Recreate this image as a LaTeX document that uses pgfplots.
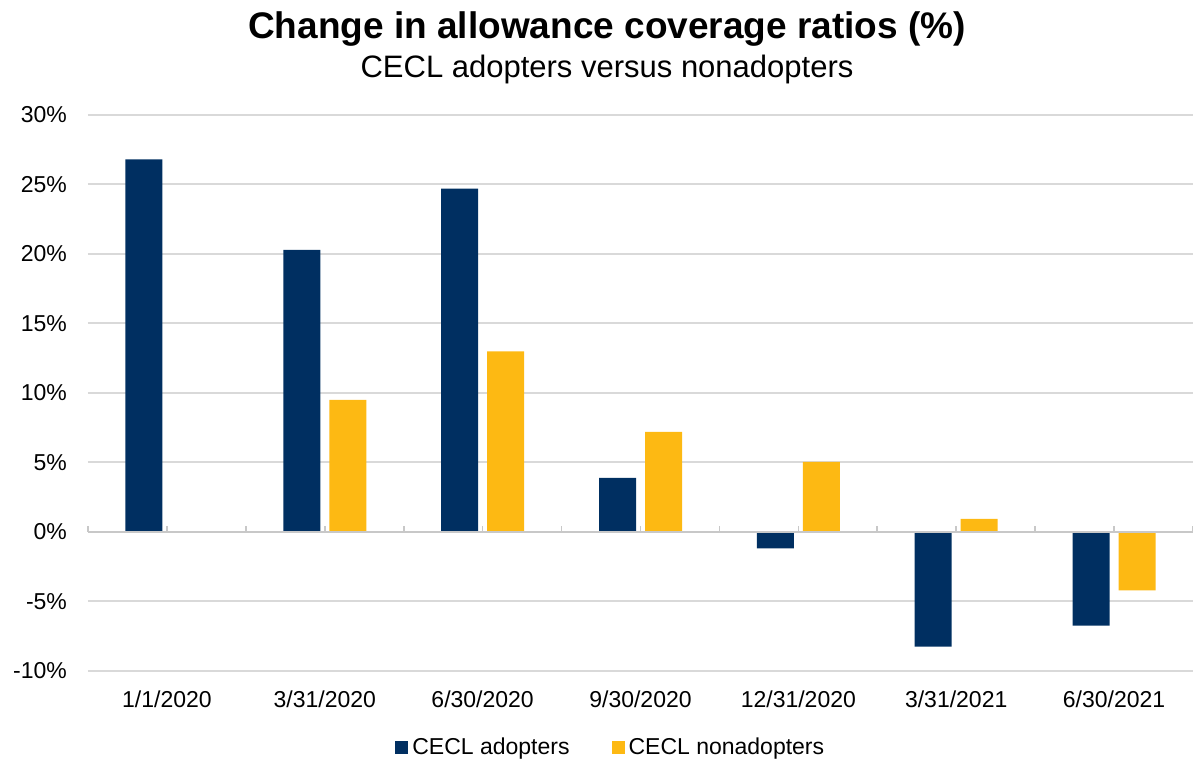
\documentclass[border=0pt]{standalone}
\usepackage{pgfplots}
\pgfplotsset{compat=1.18}
\usepackage{fontspec}
\setmainfont{Liberation Sans}
\definecolor{navy}{HTML}{002F61}
\definecolor{gold}{HTML}{FDB913}
\definecolor{gridgray}{HTML}{D9D9D9}
\definecolor{zerogray}{HTML}{C8C8C8}

\begin{document}
\begin{tikzpicture}
\path[use as bounding box] (-44pt,-46pt) rectangle (552.5pt,335.5pt);
\begin{axis}[
  at={(0,0)}, anchor=south west,
  scale only axis, width=552.5pt, height=278pt,
  xmin=-0.5, xmax=6.5, ymin=-10, ymax=30,
  ytick={-10,-5,...,30},
  yticklabels={-10\%,-5\%,0\%,5\%,10\%,15\%,20\%,25\%,30\%},
  xtick={0,...,6},
  xticklabels={1/1/2020,3/31/2020,6/30/2020,9/30/2020,12/31/2020,3/31/2021,6/30/2021},
  ymajorgrids, grid style={gridgray, line width=1pt},
  axis line style={draw=none},
  major tick length=0pt,
  tick label style={font=\fontsize{11.5}{14}\selectfont},
  yticklabel style={anchor=east, xshift=-7pt},
  xticklabel style={anchor=base, yshift=-18.5pt},
  ybar=4.5pt, bar width=18.5pt,
  clip=false,
  legend style={at={(0.474,0)}, yshift=-38.5pt, anchor=center, draw=none,
    legend columns=2, font=\fontsize{11.5}{14}\selectfont,
    /tikz/every even column/.append style={column sep=19pt}},
  legend image code/.code={\fill[#1] (0pt,-3.25pt) rectangle (6.5pt,3.25pt);},
]
\addplot[fill=navy, draw=none] coordinates {
  (0,26.8) (1,20.3) (2,24.7) (3,3.9) (4,-1.17) (5,-8.25) (6,-6.74)};
\addlegendentry{CECL adopters}
\addplot[fill=gold, draw=none] coordinates {
  (1,9.5) (2,13.0) (3,7.2) (4,5.05) (5,0.94) (6,-4.2)};
\addlegendentry{CECL nonadopters}
% zero line with small category ticks
\draw[zerogray, line width=1pt] (axis cs:-0.5,0) -- (axis cs:6.5,0);
\pgfplotsinvokeforeach{-0.5,0,...,6.5}{
  \draw[zerogray, line width=0.8pt] (axis cs:#1,0) -- ++(0pt,3pt);
}
\end{axis}
\node[anchor=base, font=\bfseries\fontsize{18.5}{22}\selectfont] at (259.5pt,316.4pt)
  {Change in allowance coverage ratios (\%)};
\node[anchor=base, font=\fontsize{15.5}{18}\selectfont] at (259.5pt,296.5pt)
  {CECL adopters versus nonadopters};
\end{tikzpicture}
\end{document}
